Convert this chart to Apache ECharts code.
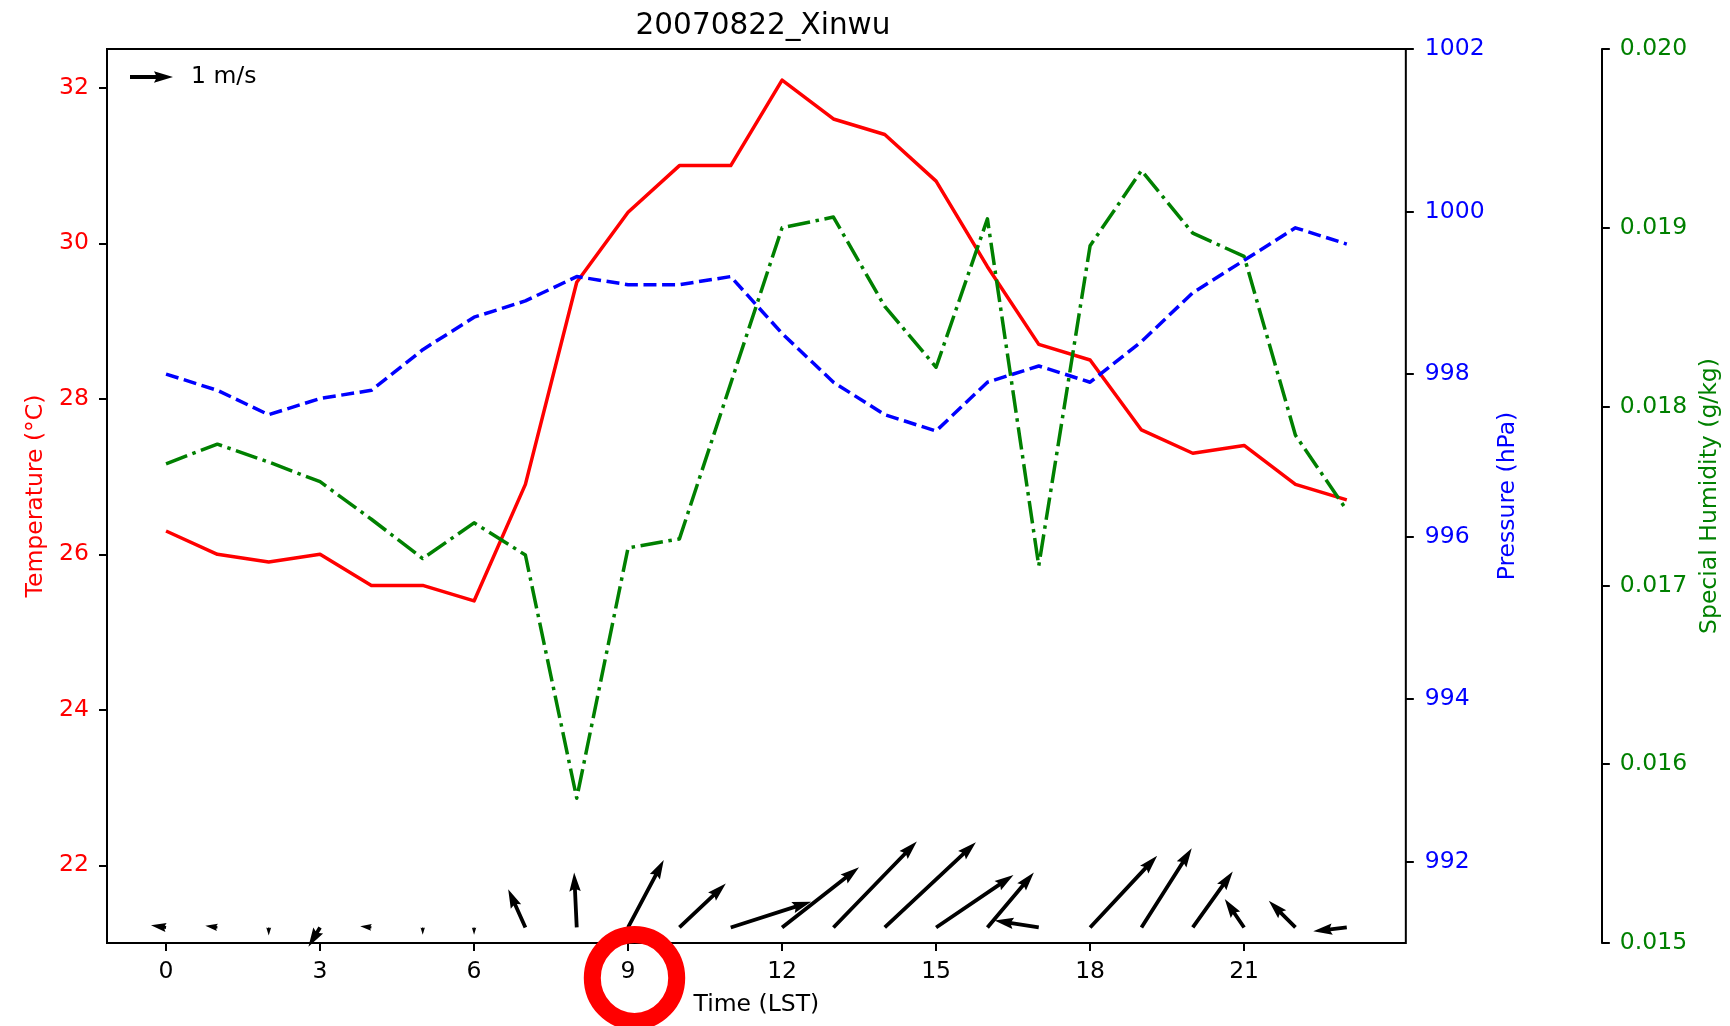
<!DOCTYPE html>
<html>
<head>
<meta charset="utf-8">
<title>20070822_Xinwu</title>
<script src="https://cdn.jsdelivr.net/npm/echarts@6/dist/echarts.min.js"></script>
<style>
  html, body { margin: 0; padding: 0; background: #fff; }
  #chart { width: 1730px; height: 1026px; }
</style>
</head>
<body>
<div id="chart"></div>
<script>
// hourly station data
const hours = [0, 1, 2, 3, 4, 5, 6, 7, 8, 9, 10, 11, 12, 13, 14, 15, 16, 17, 18, 19, 20, 21, 22, 23];
const temperature = [26.3, 26.0, 25.9, 26.0, 25.6, 25.6, 25.4, 26.9, 29.5, 30.4, 31.0, 31.0,
  32.1, 31.6, 31.4, 30.8, 29.7, 28.7, 28.5, 27.6, 27.3, 27.4, 26.9, 26.7];
const pressure = [998.0, 997.8, 997.5, 997.7, 997.8, 998.3, 998.7, 998.9, 999.2, 999.1, 999.1, 999.2,
  998.5, 997.9, 997.5, 997.3, 997.9, 998.1, 997.9, 998.4, 999.0, 999.4, 999.8, 999.6];
const humidity = [0.01768, 0.01779, 0.01769, 0.01758, 0.01737, 0.01715, 0.01735, 0.01717, 0.01581, 0.01721, 0.01726, 0.01813,
  0.01900, 0.01906, 0.01856, 0.01822, 0.01905, 0.01711, 0.01890, 0.01932, 0.01897, 0.01884, 0.01784, 0.01742];
// wind components (m/s)
const windU = [-0.35, -0.28, 0.0, -0.27, -0.26, 0.0, 0.0, -0.40, -0.06, 0.83, 1.08, 1.87,
  1.79, 1.94, 2.12, 1.80, 1.08, -1.03, 1.56, 1.17, 0.93, -0.45, -0.62, -0.78];
const windV = [0.05, 0.04, -0.19, -0.45, 0.03, -0.17, -0.17, 0.89, 1.28, 1.57, 1.02, 0.60,
  1.40, 2.00, 1.98, 1.22, 1.28, 0.16, 1.67, 1.84, 1.30, 0.66, 0.62, -0.09];
const windBase = 21.2;

const timeTicks = [0, 3, 6, 9, 12, 15, 18, 21];
const tempTicks = [22, 24, 26, 28, 30, 32];
const pressureTicks = [992, 994, 996, 998, 1000, 1002];
const humidityTicks = [0.015, 0.016, 0.017, 0.018, 0.019, 0.020];

const FONT = 'DejaVu Sans';
const PX_PER_MS = 43;   // quiver scale: pixels per 1 m/s
const SHAFT = 3.8;      // quiver shaft width in px

// matplotlib-style arrow polygon, tail at (x0, y0), vector (dx, dy) in px
function arrowPoints(x0, y0, dx, dy) {
  const len = Math.hypot(dx, dy) / SHAFT;
  let pts;
  if (len >= 5) {
    pts = [[0, 0.5], [len - 4.5, 0.5], [len - 5, 1.5], [len, 0], [len - 5, -1.5], [len - 4.5, -0.5], [0, -0.5]];
  } else {
    const s = len / 5;
    pts = [[0, 0.5 * s], [0.5 * s, 0.5 * s], [0, 1.5 * s], [5 * s, 0], [0, -1.5 * s], [0.5 * s, -0.5 * s], [0, -0.5 * s]];
  }
  const a = Math.atan2(dy, dx), c = Math.cos(a), sn = Math.sin(a);
  return pts.map(([px, py]) => [x0 + SHAFT * (px * c - py * sn), y0 + SHAFT * (px * sn + py * c)]);
}

const chart = echarts.init(document.getElementById('chart'));

const tickStyle = { show: true, length: 8, lineStyle: { color: '#000', width: 2 } };

const keyX = 130, keyY = 77;

const option = {
  backgroundColor: '#fff',
  animation: false,
  textStyle: { fontFamily: FONT },
  title: {
    text: '20070822_Xinwu',
    left: 758,
    textAlign: 'center',
    top: 6,
    textStyle: { fontFamily: FONT, fontSize: 29.5, fontWeight: 'normal', color: '#000' }
  },
  grid: {
    left: 107, right: 321, top: 49, bottom: 83,
    show: true, borderColor: '#000', borderWidth: 2, backgroundColor: 'transparent'
  },
  xAxis: {
    type: 'value',
    min: -1.15,
    max: 24.15,
    name: 'Time (LST)',
    nameLocation: 'middle',
    nameGap: 50,
    nameTextStyle: { fontFamily: FONT, fontSize: 23.5, color: '#000' },
    axisLine: { show: false, onZero: false },
    axisTick: Object.assign({ customValues: timeTicks }, tickStyle),
    axisLabel: { customValues: timeTicks, fontFamily: FONT, fontSize: 23.5, color: '#000', margin: 17 },
    splitLine: { show: false }
  },
  yAxis: [
    {
      type: 'value', position: 'left', min: 21, max: 32.5,
      name: 'Temperature (°C)', nameLocation: 'middle', nameGap: 56,
      nameTextStyle: { fontFamily: FONT, fontSize: 23.5, color: '#ff0000' },
      axisLine: { show: false, onZero: false },
      axisTick: Object.assign({ customValues: tempTicks }, tickStyle),
      axisLabel: { customValues: tempTicks, fontFamily: FONT, fontSize: 23.5, color: '#ff0000', margin: 18 },
      splitLine: { show: false }
    },
    {
      type: 'value', position: 'right', min: 991, max: 1002,
      name: 'Pressure (hPa)', nameLocation: 'middle', nameGap: 89,
      nameTextStyle: { fontFamily: FONT, fontSize: 23.5, color: '#0000ff' },
      axisLine: { show: false, onZero: false },
      axisTick: Object.assign({ customValues: pressureTicks }, tickStyle),
      axisLabel: {
        customValues: pressureTicks, fontFamily: FONT, fontSize: 23.5, color: '#0000ff', margin: 19,
        formatter: v => String(Math.round(v))
      },
      splitLine: { show: false }
    },
    {
      type: 'value', position: 'right', offset: 196, min: 0.015, max: 0.020,
      name: 'Special Humidity (g/kg)', nameLocation: 'middle', nameGap: 94,
      nameTextStyle: { fontFamily: FONT, fontSize: 23.5, color: '#008000' },
      axisLine: { show: true, onZero: false, lineStyle: { color: '#000', width: 2 } },
      axisTick: Object.assign({ customValues: humidityTicks }, tickStyle),
      axisLabel: {
        customValues: humidityTicks, fontFamily: FONT, fontSize: 23.5, color: '#008000', margin: 18,
        formatter: v => v.toFixed(3)
      },
      splitLine: { show: false }
    }
  ],
  series: [
    {
      name: 'Temperature',
      type: 'line',
      yAxisIndex: 0,
      showSymbol: false,
      data: hours.map((h, i) => [h, temperature[i]]),
      lineStyle: { color: '#ff0000', width: 3.5, join: 'round' },
      z: 2
    },
    {
      name: 'Wind',
      type: 'custom',
      yAxisIndex: 0,
      data: hours.map((h, i) => [h, windBase, windU[i], windV[i]]),
      renderItem: (params, api) => {
        const p = api.coord([api.value(0), api.value(1)]);
        const u = api.value(2), v = api.value(3);
        return {
          type: 'polygon',
          shape: { points: arrowPoints(p[0], p[1], u * PX_PER_MS, -v * PX_PER_MS) },
          style: { fill: '#000', stroke: null }
        };
      },
      z: 3
    },
    {
      name: 'Pressure',
      type: 'line',
      yAxisIndex: 1,
      showSymbol: false,
      data: hours.map((h, i) => [h, pressure[i]]),
      lineStyle: { color: '#0000ff', width: 3.5, type: [13, 5.6], cap: 'butt', join: 'round' },
      z: 4
    },
    {
      name: 'Humidity',
      type: 'line',
      yAxisIndex: 2,
      showSymbol: false,
      data: hours.map((h, i) => [h, humidity[i]]),
      lineStyle: { color: '#008000', width: 3.5, type: [22.6, 5.6, 3.5, 5.6], cap: 'butt', join: 'round' },
      z: 5
    }
  ],
  graphic: [
    {
      type: 'polygon',
      shape: { points: arrowPoints(keyX, keyY, PX_PER_MS, 0) },
      style: { fill: '#000' },
      z: 10
    },
    {
      type: 'text',
      x: 191, y: keyY,
      style: { text: '1 m/s', fontFamily: FONT, fontSize: 23.5, fill: '#000', verticalAlign: 'middle' },
      z: 10
    },
    {
      type: 'ellipse',
      shape: { cx: 634.5, cy: 978, rx: 42.2, ry: 43.4 },
      style: { fill: null, stroke: '#ff0000', lineWidth: 17 },
      z: 20
    }
  ]
};

chart.setOption(option);
</script>
</body>
</html>
